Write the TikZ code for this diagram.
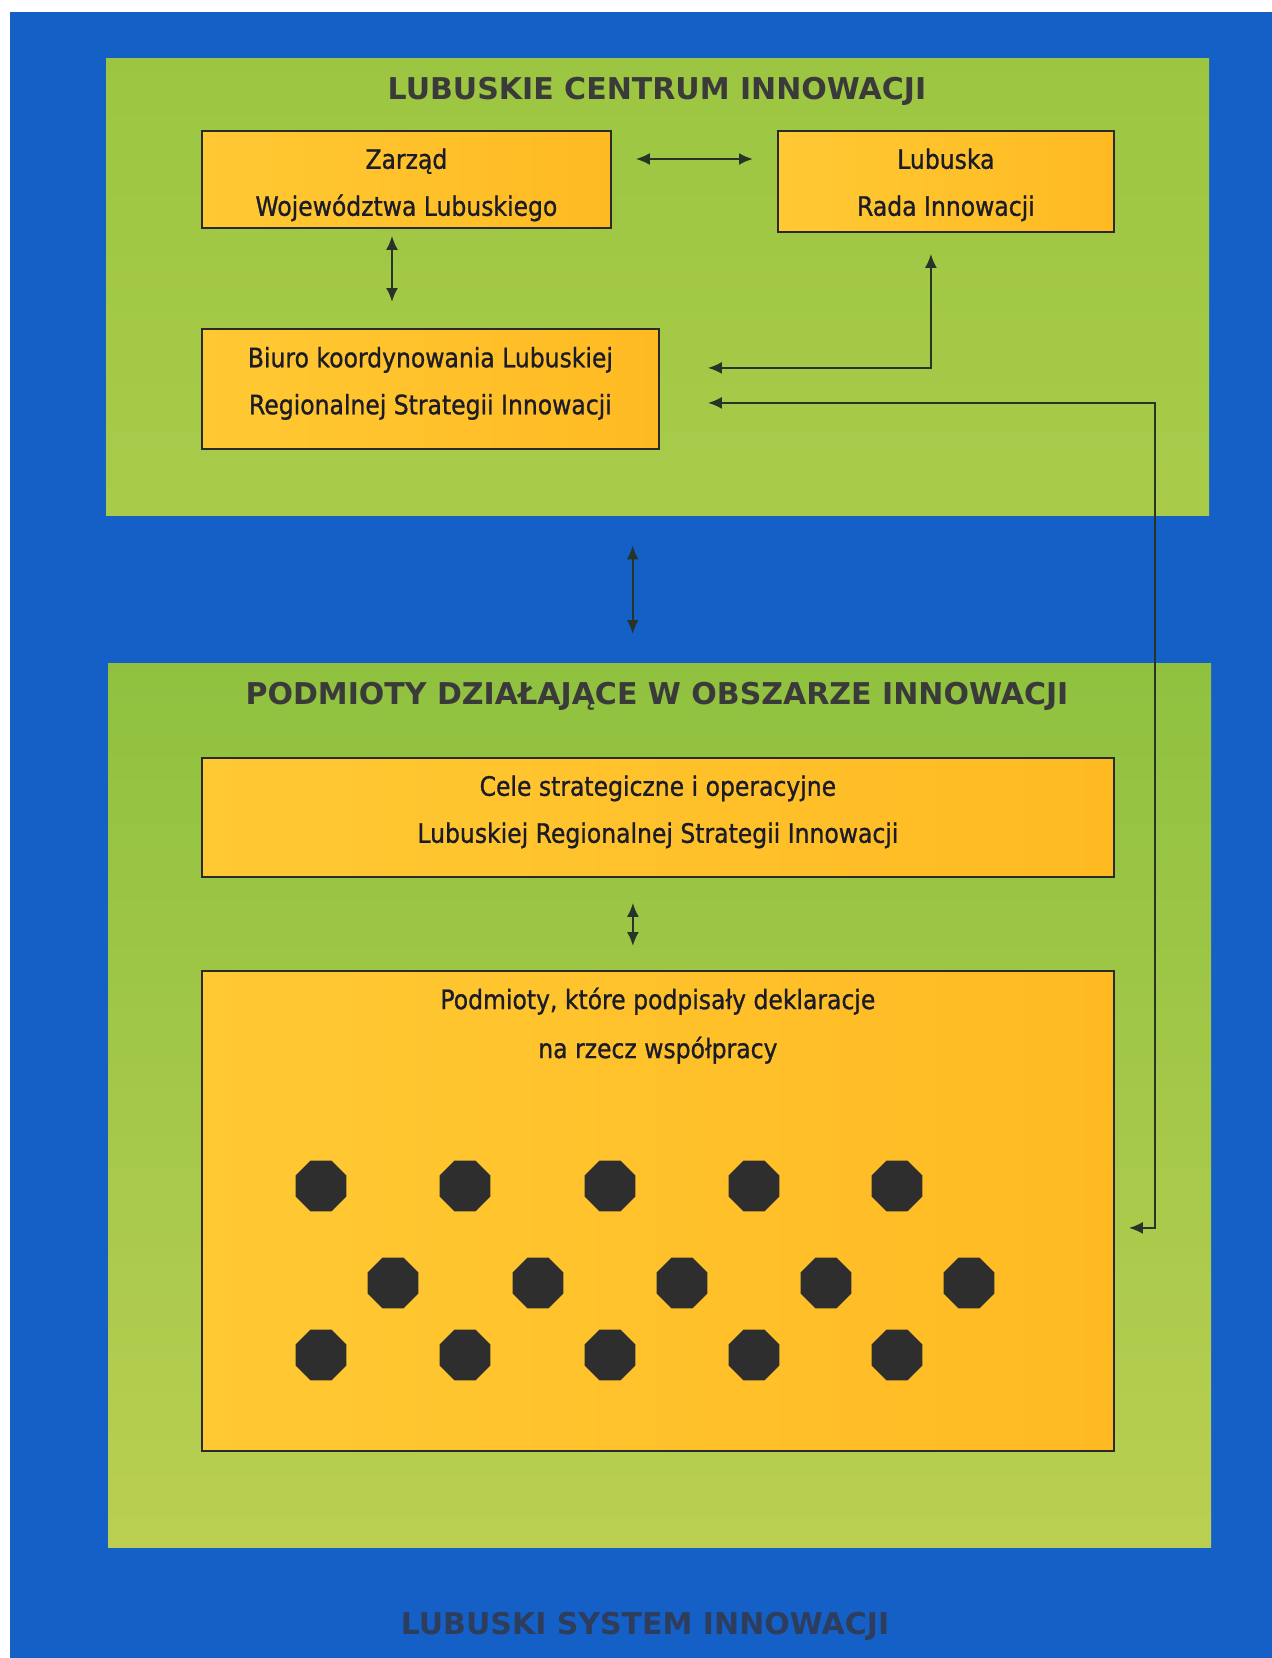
\documentclass[tikz,border=0pt]{standalone}
\usepackage{fontspec}
\setmainfont{DejaVu Sans}
\newfontfamily\boxfont{DejaVu Sans}[FakeStretch=0.88,FakeBold=1.0]
\usetikzlibrary{shapes.geometric,arrows.meta}
\definecolor{bgblue}{HTML}{1560C6}
\definecolor{greenA}{HTML}{9CC642}
\definecolor{greenB}{HTML}{A8CB4A}
\definecolor{greenC}{HTML}{8FC13F}
\definecolor{greenD}{HTML}{BACF52}
\definecolor{orA}{HTML}{FFC934}
\definecolor{orB}{HTML}{FFBA22}
\definecolor{boxline}{HTML}{2A2A2A}
\definecolor{titlec}{HTML}{3A3A3A}
\definecolor{btitlec}{HTML}{2E3D5C}
\definecolor{linec}{HTML}{283428}
\definecolor{dotc}{HTML}{2E2E2E}
\definecolor{textc}{HTML}{1C1C28}
\begin{document}
\begin{tikzpicture}[x=1pt,y=-1pt,
  panel/.style={draw=none, anchor=north west, inner sep=0pt},
  obox/.style={draw=boxline, line width=1.8pt, left color=orA, right color=orB,
    anchor=north west, inner sep=0pt},
  btext/.style={align=center, inner sep=0pt,
    font=\boxfont\fontsize{26.7}{47}\selectfont, text=textc},
  ptitle/.style={font=\bfseries\fontsize{30}{36}\selectfont, text=titlec, inner sep=0pt},
  dbl/.style={draw=linec, line width=2.2pt, {Latex[length=14pt,width=12pt]}-{Latex[length=14pt,width=12pt]}},
  dot/.style={regular polygon, regular polygon sides=8, minimum size=55pt, inner sep=0pt, fill=dotc, draw=none}
]
\useasboundingbox (0,0) rectangle (1272,1658);
\fill[white] (0,0) rectangle (1272,1658);
\fill[bgblue] (10,12) rectangle (1272,1658);

% panels
\node[panel, top color=greenA, bottom color=greenB, minimum width=1103pt, minimum height=457pt] (lci) at (106,58) {};
\node[panel, top color=greenC, bottom color=greenD, minimum width=1103pt, minimum height=884pt] (pdi) at (108,663) {};

% titles
\node[ptitle] (lcititle) at (657,91) {LUBUSKIE CENTRUM INNOWACJI};
\node[ptitle] (pdititle) at (657,696) {PODMIOTY DZIAŁAJĄCE W OBSZARZE INNOWACJI};
\node[ptitle, text=btitlec] (lsititle) at (645,1626) {LUBUSKI SYSTEM INNOWACJI};

% boxes
\node[obox, minimum width=409pt, minimum height=97pt] (zarzad) at (201,130) {};
\node[btext] (zarzadt) at ([shift={(0,5.5)}]zarzad.center) {Zarząd\\Województwa Lubuskiego};
\node[obox, minimum width=336pt, minimum height=101pt] (lubuska) at (777,130) {};
\node[btext] (lubuskat) at ([shift={(0,3.5)}]lubuska.center) {Lubuska\\Rada Innowacji};
\node[obox, minimum width=457pt, minimum height=120pt] (biuro) at (201,328) {};
\node[btext] (biurot) at ([shift={(0,-5.5)}]biuro.center) {Biuro koordynowania Lubuskiej\\Regionalnej Strategii Innowacji};
\node[obox, minimum width=912pt, minimum height=119pt] (cele) at (201,757) {};
\node[btext] (celet) at ([shift={(0,-5.5)}]cele.center) {Cele strategiczne i operacyjne\\Lubuskiej Regionalnej Strategii Innowacji};
\node[obox, minimum width=912pt, minimum height=480pt] (podm) at (201,970) {};
\node[btext, anchor=north, font=\boxfont\fontsize{26.7}{49}\selectfont] (podmt) at ([shift={(0,17.5)}]podm.north) {Podmioty, które podpisały deklaracje\\na rzecz współpracy};

% dots
\foreach \x [count=\i] in {321,465,610,754,897} {
  \node[dot] (da\i) at (\x,1186) {};
  \node[dot] (dc\i) at (\x,1355) {};
}
\foreach \x [count=\i] in {393,538,682,826,969} {
  \node[dot] (db\i) at (\x,1283) {};
}

% connectors
\draw[dbl] ([shift={(24,29)}]zarzad.north east) -- ([shift={(-24,29)}]lubuska.north west);
\draw[dbl] ([shift={(191,7)}]zarzad.south west) -- ([shift={(191,-26)}]biuro.north west);
\draw[dbl] ([shift={(-15,21)}]lubuska.south) |- ([shift={(48,-21)}]biuro.east);
\draw[dbl] ([shift={(48,14)}]biuro.east) -- ++(447,0) |- ([shift={(14,17)}]podm.east);
\draw[dbl] ([shift={(-25,30)}]lci.south) -- ([shift={(-27,-29)}]pdi.north);
\draw[dbl] ([shift={(-25,25)}]cele.south) -- ([shift={(-25,-24)}]podm.north);
\end{tikzpicture}
\end{document}
